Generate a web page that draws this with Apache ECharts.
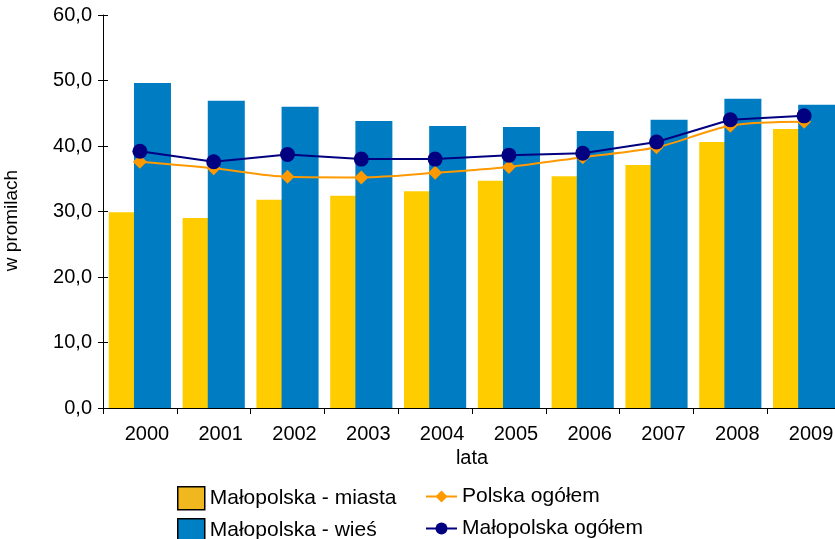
<!DOCTYPE html>
<html>
<head>
<meta charset="utf-8">
<script src="https://cdn.jsdelivr.net/npm/echarts@6/dist/echarts.min.js"></script>
<style>html,body{margin:0;padding:0;background:#fff;}#c{width:835px;height:539px;}</style>
</head>
<body>
<div id="c"></div>
<script>
var categories = ['2000','2001','2002','2003','2004','2005','2006','2007','2008','2009'];
var miasta = [29.9, 29.0, 31.8, 32.4, 33.1, 34.7, 35.4, 37.1, 40.6, 42.6];
var wies = [49.6, 46.9, 46.0, 43.8, 43.05, 42.9, 42.3, 44.0, 47.2, 46.3];
var polska = [37.6, 36.6, 35.3, 35.2, 35.9, 36.8, 38.3, 39.8, 43.1, 43.7];
var malopolska = [39.2, 37.6, 38.7, 38.0, 38.0, 38.6, 38.9, 40.6, 44.0, 44.6];
var yTicks = [0, 10, 20, 30, 40, 50, 60];

var FONT = '"Liberation Sans", Arial, sans-serif';
var chart = echarts.init(document.getElementById('c'));
function fmt(v){ return v.toFixed(1).replace('.', ','); }
var legendText = {fontFamily: FONT, fontSize: 21, color: '#000'};
chart.setOption({
  animation: false,
  backgroundColor: '#fff',
  textStyle: {fontFamily: FONT},
  grid: {left: 103, top: 15, width: 738, height: 393, outerBoundsMode: 'none', containLabel: false},
  legend: [
    {left: 177, top: 486, padding: 0, itemWidth: 27, itemHeight: 23, textStyle: legendText, icon: 'rect',
     data: [{name: 'Małopolska - miasta', itemStyle: {color: '#F0B81E', borderColor: '#000', borderWidth: 1.5}}]},
    {left: 177, top: 518, padding: 0, itemWidth: 27, itemHeight: 23, textStyle: legendText, icon: 'rect',
     data: [{name: 'Małopolska - wieś', itemStyle: {color: '#0080C4', borderColor: '#000', borderWidth: 1.5}}]},
    {left: 425, top: 486, padding: 0, itemWidth: 31, itemHeight: 15, textStyle: legendText,
     data: ['Polska ogółem']},
    {left: 425, top: 518, padding: 0, itemWidth: 31, itemHeight: 15, textStyle: legendText,
     data: ['Małopolska ogółem']}
  ],
  xAxis: {
    type: 'category', data: categories, boundaryGap: true,
    name: 'lata', nameLocation: 'middle', nameGap: 40,
    nameTextStyle: {fontFamily: FONT, fontSize: 20, color: '#000'},
    axisLine: {lineStyle: {color: '#000', width: 1}},
    axisTick: {show: true, inside: false, length: 6, interval: 0, lineStyle: {color: '#000'}},
    axisLabel: {fontFamily: FONT, fontSize: 20, color: '#000', margin: 16, interval: 0, padding: [0, 0, 0, 14]}
  },
  yAxis: [
    {
      type: 'value', min: yTicks[0], max: yTicks[yTicks.length - 1], interval: 10,
      name: 'w promilach', nameLocation: 'middle', nameGap: 82, nameRotate: 90,
      nameTextStyle: {fontFamily: FONT, fontSize: 19, color: '#000', padding: [0, 18, 0, 0]},
      axisLine: {show: true, lineStyle: {color: '#000', width: 1}},
      axisTick: {show: true, length: 5, lineStyle: {color: '#000'}},
      axisLabel: {fontFamily: FONT, fontSize: 20, color: '#000', margin: 11, formatter: fmt},
      splitLine: {show: false}
    },
    {
      type: 'value', position: 'left', min: yTicks[0], max: yTicks[yTicks.length - 1], interval: 10,
      axisLine: {show: false},
      axisTick: {show: true, inside: true, length: 5, lineStyle: {color: '#000'}},
      axisLabel: {show: false},
      splitLine: {show: false}
    }
  ],
  series: [
    {name: 'Małopolska - miasta', type: 'bar', data: miasta, barWidth: 37, barGap: '-32%',
     itemStyle: {color: '#FFCC00'}},
    {name: 'Małopolska - wieś', type: 'bar', data: wies, barWidth: 37, barGap: '-32%',
     itemStyle: {color: '#007CC2'}},
    {name: 'Polska ogółem', type: 'line', data: polska, smooth: 0.3, symbol: 'diamond', symbolSize: 14,
     lineStyle: {color: '#FF9900', width: 2}, itemStyle: {color: '#FF9900'}, z: 3},
    {name: 'Małopolska ogółem', type: 'line', data: malopolska, symbol: 'circle', symbolSize: 15,
     lineStyle: {color: '#000080', width: 2}, itemStyle: {color: '#000080'}, z: 4}
  ]
});
</script>
</body>
</html>
